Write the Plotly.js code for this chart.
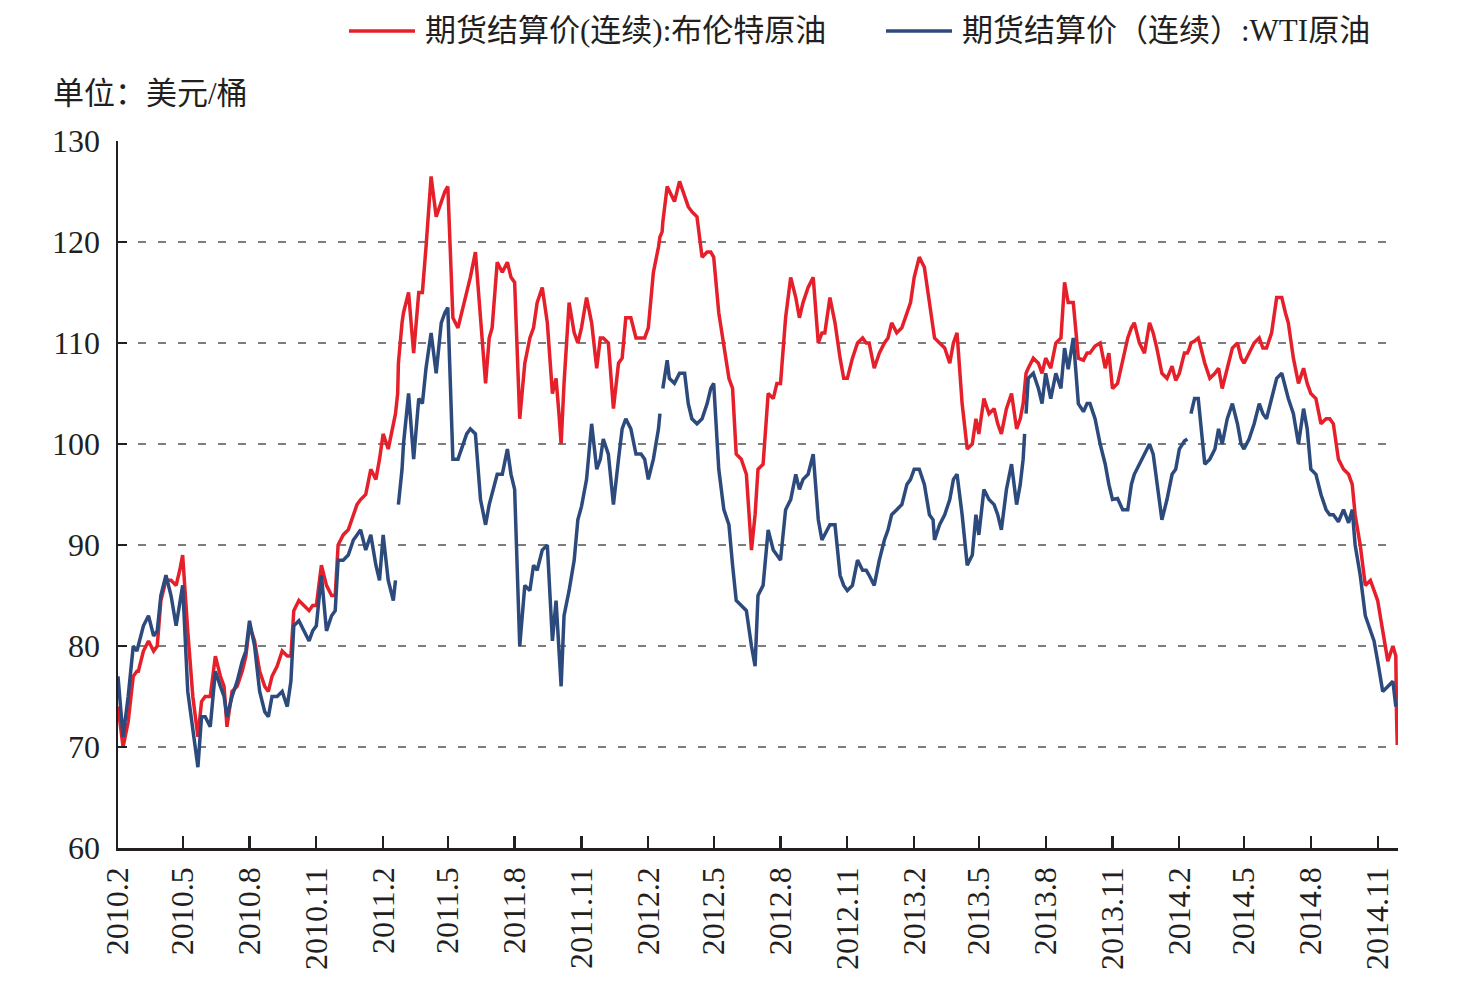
<!DOCTYPE html>
<html>
<head>
<meta charset="utf-8">
<script src="https://cdn.plot.ly/plotly-3.0.1.min.js"></script>
<style>
  html, body { margin: 0; padding: 0; background: #ffffff; }
  #chart { width: 1467px; height: 987px; }
</style>
</head>
<body>
<div id="chart"></div>
<script>
// Futures settlement prices (continuous contract), USD per barrel.
// Sampled about weekly; null marks days with no WTI settlement.

const dates2010 = [
  '2010-02-01','2010-02-08','2010-02-15','2010-02-22','2010-02-27',
  '2010-03-01','2010-03-08','2010-03-15','2010-03-22','2010-03-27',
  '2010-04-01','2010-04-08','2010-04-15','2010-04-22','2010-04-27',
  '2010-05-01','2010-05-08','2010-05-15','2010-05-22','2010-05-27',
  '2010-06-01','2010-06-08','2010-06-15','2010-06-22','2010-06-27',
  '2010-07-01','2010-07-08','2010-07-15','2010-07-22','2010-07-27',
  '2010-08-01','2010-08-08','2010-08-15','2010-08-22','2010-08-27',
  '2010-09-01','2010-09-08','2010-09-15','2010-09-22','2010-09-27',
  '2010-10-01','2010-10-08','2010-10-15','2010-10-22','2010-10-27',
  '2010-11-01','2010-11-08','2010-11-15','2010-11-22','2010-11-27',
  '2010-12-01','2010-12-08','2010-12-15','2010-12-22','2010-12-27'
];
const brent2010 = [
  74, 70, 72.5, 77, 77.5,
  77.5, 79.5, 80.5, 79.5, 80,
  84.5, 86.5, 86.5, 86, 87.5,
  89, 81.5, 75, 71, 74.5,
  75, 75, 79, 77, 76,
  72, 75.5, 76, 77.5, 79,
  82, 80.5, 77.5, 76, 75.5,
  77, 78, 79.5, 79, 79,
  83.5, 84.5, 84, 83.5, 84,
  84, 88, 86, 85, 85,
  90, 91, 91.5, 93, 94
];
const wti2010 = [
  77, 71, 75, 80, 79.5,
  80, 82, 83, 81, 81.5,
  85, 87, 85, 82, 84,
  86, 75.5, 71.5, 68, 73,
  73, 72, 77.5, 76, 75,
  73, 75, 76.5, 78.5, 79.5,
  82.5, 80, 75.5, 73.5, 73,
  75, 75, 75.5, 74, 76.5,
  82, 82.5, 81.5, 80.5, 81.5,
  82, 87, 81.5, 83, 83.5,
  88.5, 88.5, 89, 90.5, 91
];

const dates2011 = [
  '2011-01-01','2011-01-08','2011-01-15','2011-01-22','2011-01-27',
  '2011-02-01','2011-02-08','2011-02-15','2011-02-18','2011-02-21','2011-02-22','2011-02-27',
  '2011-03-01','2011-03-08','2011-03-15','2011-03-22','2011-03-27',
  '2011-04-01','2011-04-08','2011-04-15','2011-04-22','2011-04-27',
  '2011-05-01','2011-05-08','2011-05-15','2011-05-22','2011-05-27',
  '2011-06-01','2011-06-08','2011-06-15','2011-06-22','2011-06-27',
  '2011-07-01','2011-07-08','2011-07-15','2011-07-22','2011-07-27',
  '2011-08-01','2011-08-08','2011-08-15','2011-08-22','2011-08-27',
  '2011-09-01','2011-09-08','2011-09-15','2011-09-22','2011-09-27',
  '2011-10-01','2011-10-04','2011-10-08','2011-10-15','2011-10-22','2011-10-27',
  '2011-11-01','2011-11-08','2011-11-15','2011-11-22','2011-11-27',
  '2011-12-01','2011-12-08','2011-12-15','2011-12-22','2011-12-27'
];
const brent2011 = [
  94.5, 95, 97.5, 96.5, 98.5,
  101, 99.5, 102, 103, 105, 108, 112,
  113, 115, 109, 115, 115,
  119.5, 126.5, 122.5, 124, 125,
  125.5, 112.5, 111.5, 113.5, 115,
  116.5, 119, 113, 106, 110.5,
  111.5, 118, 117, 118, 116.5,
  116, 102.5, 108, 110.5, 111.5,
  114, 115.5, 112, 105, 106.5,
  103, 100, 106, 114, 111, 110,
  111.5, 114.5, 112, 107.5, 110.5,
  110.5, 110, 103.5, 108, 108.5
];
const wti2011 = [
  91.5, 89.5, 91, 88, 86.5,
  91, 86.5, 84.5, 86.5, null, 94, 97.5,
  100, 105, 98.5, 104.5, 104,
  107.5, 111, 107, 112, 113,
  113.5, 98.5, 98.5, 100, 101,
  101.5, 101, 94.5, 92, 94,
  95, 97, 97, 99.5, 97,
  95.5, 80, 86, 85.5, 88,
  87.5, 89.5, 90, 80.5, 84.5,
  79, 76, 83, 85.5, 88.5, 92.5,
  93.8, 96.5, 102, 97.5, 98.5,
  100.5, 99, 94, 98.5, 101.5
];

const dates2012 = [
  '2012-01-01','2012-01-08','2012-01-15','2012-01-22','2012-01-27',
  '2012-02-01','2012-02-08','2012-02-15','2012-02-17','2012-02-20','2012-02-21','2012-02-27',
  '2012-03-01','2012-03-08','2012-03-15','2012-03-22','2012-03-27',
  '2012-04-01','2012-04-08','2012-04-15','2012-04-22','2012-04-27',
  '2012-05-01','2012-05-08','2012-05-15','2012-05-22','2012-05-27',
  '2012-06-01','2012-06-08','2012-06-15','2012-06-22','2012-06-27',
  '2012-07-01','2012-07-08','2012-07-15','2012-07-22','2012-07-27',
  '2012-08-01','2012-08-08','2012-08-15','2012-08-22','2012-08-27',
  '2012-09-01','2012-09-08','2012-09-15','2012-09-22','2012-09-27',
  '2012-10-01','2012-10-08','2012-10-15','2012-10-22','2012-10-27',
  '2012-11-01','2012-11-08','2012-11-15','2012-11-22','2012-11-27',
  '2012-12-01','2012-12-08','2012-12-15','2012-12-22','2012-12-27'
];
const brent2012 = [
  112.5, 112.5, 110.5, 110.5, 110.5,
  111.5, 117, 119.5, 120.5, 121, 122, 125.5,
  125, 124, 126, 124.5, 123.5,
  123, 122.5, 118.5, 119, 119,
  118.5, 113, 110, 106.5, 105.5,
  99, 98.5, 97, 89.5, 93,
  97.5, 98, 105, 104.5, 106,
  106, 112.5, 116.5, 114.5, 112.5,
  114, 115.5, 116.5, 110, 111,
  111, 114.5, 112, 108.5, 106.5,
  106.5, 108.5, 110, 110.5, 110,
  110, 107.5, 109, 110, 110.5
];
const wti2012 = [
  102.5, 101.5, 99, 99, 98.5,
  96.5, 98.5, 101.5, 103, null, 105.5, 108.3,
  106.5, 106, 107, 107, 104,
  102.5, 102, 102.5, 104, 105.5,
  106, 97.5, 93.5, 92, 88,
  84.5, 84, 83.5, 80, 78,
  85, 86, 91.5, 89.5, 89,
  88.5, 93.5, 94.5, 97, 95.5,
  96.5, 97, 99, 92.5, 90.5,
  91, 92, 92, 87, 86,
  85.5, 86, 88.5, 87.5, 87.5,
  87, 86, 88.5, 90.5, 91.5
];

const dates2013 = [
  '2013-01-01','2013-01-08','2013-01-15','2013-01-22','2013-01-27',
  '2013-02-01','2013-02-08','2013-02-15','2013-02-22','2013-02-27',
  '2013-03-01','2013-03-08','2013-03-15','2013-03-22','2013-03-27',
  '2013-04-01','2013-04-08','2013-04-15','2013-04-22','2013-04-27',
  '2013-05-01','2013-05-08','2013-05-15','2013-05-22','2013-05-27',
  '2013-06-01','2013-06-08','2013-06-15','2013-06-22','2013-06-27',
  '2013-07-01','2013-07-03','2013-07-04','2013-07-05','2013-07-08','2013-07-15','2013-07-22','2013-07-27',
  '2013-08-01','2013-08-08','2013-08-15','2013-08-22','2013-08-27',
  '2013-09-01','2013-09-08','2013-09-15','2013-09-22','2013-09-27',
  '2013-10-01','2013-10-08','2013-10-15','2013-10-22','2013-10-27',
  '2013-11-01','2013-11-08','2013-11-15','2013-11-22','2013-11-27',
  '2013-12-01','2013-12-08','2013-12-15','2013-12-22','2013-12-27'
];
const brent2013 = [
  112, 111, 111.5, 113, 114,
  116.5, 118.5, 117.5, 114, 112,
  110.5, 110, 109.5, 108, 110,
  111, 104, 99.5, 100, 102.5,
  101, 104.5, 103, 103.5, 102,
  101, 103.5, 105, 101.5, 102.5,
  104, 105.5, 106, 107, 107.5, 108.5, 108, 107,
  108.5, 107.5, 110, 110.5, 116,
  114, 114, 108.5, 108.3, 109,
  109, 109.7, 110, 107.5, 109,
  105.5, 106, 108.4, 110.5, 111.5,
  112, 110, 109, 112, 111
];
const wti2013 = [
  93, 93.5, 94, 96, 96.5,
  97.5, 97.5, 96, 93, 92.5,
  90.5, 92, 93, 94.5, 96.5,
  97, 93, 88, 89, 93,
  91, 95.5, 94.5, 94, 93,
  91.5, 95.5, 98, 94, 96,
  98.5, 101, null, 103, 106.5, 107, 105.5, 104,
  107, 104.5, 107, 105.5, 109.5,
  107.4, 110.5, 104, 103.2, 104,
  104, 102.5, 100, 98, 96,
  94.5, 94.6, 93.5, 93.5, 96,
  97, 98, 99, 100, 99
];

const dates2014 = [
  '2014-01-01','2014-01-08','2014-01-15','2014-01-22','2014-01-27',
  '2014-02-01','2014-02-08','2014-02-12','2014-02-15','2014-02-17','2014-02-22','2014-02-27',
  '2014-03-01','2014-03-08','2014-03-15','2014-03-22','2014-03-27',
  '2014-04-01','2014-04-08','2014-04-15','2014-04-22','2014-04-27',
  '2014-05-01','2014-05-08','2014-05-15','2014-05-22','2014-05-27',
  '2014-06-01','2014-06-08','2014-06-15','2014-06-22','2014-06-27',
  '2014-07-01','2014-07-08','2014-07-15','2014-07-22','2014-07-27',
  '2014-08-01','2014-08-08','2014-08-15','2014-08-22','2014-08-27',
  '2014-09-01','2014-09-08','2014-09-15','2014-09-22','2014-09-27',
  '2014-10-01','2014-10-08','2014-10-15','2014-10-22','2014-10-27',
  '2014-11-01','2014-11-08','2014-11-15','2014-11-22','2014-11-26','2014-11-27','2014-11-28'
];
const brent2014 = [
  109.5, 107, 106.5, 107.7, 106.3,
  107, 109, 109, 109.5, 110, 110.2, 110.5,
  110, 108, 106.5, 107, 107.5,
  105.5, 107.5, 109.5, 110, 108.5,
  108, 109, 110, 110.5, 109.5,
  109.5, 111, 114.5, 114.5, 113,
  112, 108.5, 106, 107.5, 106,
  105, 104.5, 102, 102.5, 102.5,
  102, 98.5, 97.5, 97, 96,
  93, 90, 86, 86.5, 85.5,
  84.5, 81.5, 78.5, 80, 79, 73, 70.2
];
const wti2014 = [
  96.5, 92.5, 94.5, 97, 97.5,
  99.5, 100.3, 100.5, null, 103, 104.5, 104.5,
  103, 98, 98.5, 99.5, 101.5,
  100, 102.5, 104, 102, 100,
  99.5, 100.5, 102, 104, 103,
  102.5, 104.5, 106.5, 107, 105.5,
  104.5, 103, 100, 103.5, 101.5,
  97.5, 97, 95, 93.5, 93,
  93, 92.3, 93.5, 92.2, 93.5,
  90, 87, 83, 81.5, 80.5,
  78.5, 75.5, 76, 76.5, 74, null, null
];

// Quarterly axis ticks
const tickDates = [
  '2010-02-01','2010-05-01','2010-08-01','2010-11-01',
  '2011-02-01','2011-05-01','2011-08-01','2011-11-01',
  '2012-02-01','2012-05-01','2012-08-01','2012-11-01',
  '2013-02-01','2013-05-01','2013-08-01','2013-11-01',
  '2014-02-01','2014-05-01','2014-08-01','2014-11-01'
];
const tickLabels = [
  '2010.2','2010.5','2010.8','2010.11',
  '2011.2','2011.5','2011.8','2011.11',
  '2012.2','2012.5','2012.8','2012.11',
  '2013.2','2013.5','2013.8','2013.11',
  '2014.2','2014.5','2014.8','2014.11'
];

const seriesNames = ['期货结算价(连续):布伦特原油', '期货结算价（连续）:WTI原油'];
const unitLabel = '单位：美元/桶';

const dates = [].concat(dates2010, dates2011, dates2012, dates2013, dates2014);
const brent = [].concat(brent2010, brent2011, brent2012, brent2013, brent2014);
const wti = [].concat(wti2010, wti2011, wti2012, wti2013, wti2014);

const RED = '#E5202B';
const BLUE = '#2D4A7D';
const INK = '#231F20';
const SERIF = "'Liberation Serif', 'Noto Sans CJK SC', serif";
const CJK = "'Liberation Serif', 'Noto Sans CJK SC', sans-serif";

const W = 1467, H = 987;
const M = { l: 118, r: 69, t: 141, b: 139 };
const pw = W - M.l - M.r, ph = H - M.t - M.b;
const px = x => (x - M.l) / pw;
const py = y => (H - M.b - y) / ph;

const traces = [
  { x: dates, y: brent, type: 'scatter', mode: 'lines', name: seriesNames[0],
    line: { color: RED, width: 3.5 }, connectgaps: false },
  { x: dates, y: wti, type: 'scatter', mode: 'lines', name: seriesNames[1],
    line: { color: BLUE, width: 3.5 }, connectgaps: false }
];

const legendY = 31;
const layout = {
  width: W, height: H,
  margin: M,
  paper_bgcolor: '#ffffff', plot_bgcolor: '#ffffff',
  showlegend: false,
  xaxis: {
    type: 'date', range: ['2010-02-01', '2014-11-29'],
    tickmode: 'array', tickvals: tickDates, ticktext: tickLabels,
    tickangle: -90, ticks: 'inside', ticklen: 12, tickwidth: 2.3, tickcolor: INK,
    showline: true, linecolor: INK, linewidth: 2.5,
    showgrid: false, zeroline: false,
    tickfont: { family: SERIF, size: 32, color: INK },
    ticklabelstandoff: 4
  },
  yaxis: {
    range: [60, 130], tickmode: 'linear', tick0: 60, dtick: 10,
    ticks: 'inside', ticklen: 9, tickwidth: 2, tickcolor: INK,
    showline: true, linecolor: INK, linewidth: 2.5,
    showgrid: true, gridcolor: '#7d7d7d', gridwidth: 1.5, griddash: '8px,12px',
    zeroline: false,
    tickfont: { family: SERIF, size: 32, color: INK },
    ticklabelstandoff: 9
  },
  shapes: [
    { type: 'line', xref: 'paper', yref: 'paper',
      x0: px(349), x1: px(415), y0: py(legendY), y1: py(legendY),
      line: { color: RED, width: 3.5 } },
    { type: 'line', xref: 'paper', yref: 'paper',
      x0: px(886), x1: px(952), y0: py(legendY), y1: py(legendY),
      line: { color: BLUE, width: 3.5 } }
  ],
  annotations: [
    { xref: 'paper', yref: 'paper', x: px(423), y: py(legendY),
      xanchor: 'left', yanchor: 'middle', showarrow: false,
      text: seriesNames[0], font: { family: CJK, size: 31, color: INK } },
    { xref: 'paper', yref: 'paper', x: px(960), y: py(legendY),
      xanchor: 'left', yanchor: 'middle', showarrow: false,
      text: seriesNames[1], font: { family: CJK, size: 31, color: INK } },
    { xref: 'paper', yref: 'paper', x: px(51), y: py(93),
      xanchor: 'left', yanchor: 'middle', showarrow: false,
      text: unitLabel, font: { family: CJK, size: 31, color: INK } }
  ]
};

Plotly.newPlot('chart', traces, layout, { displayModeBar: false, staticPlot: true });
</script>
</body>
</html>
